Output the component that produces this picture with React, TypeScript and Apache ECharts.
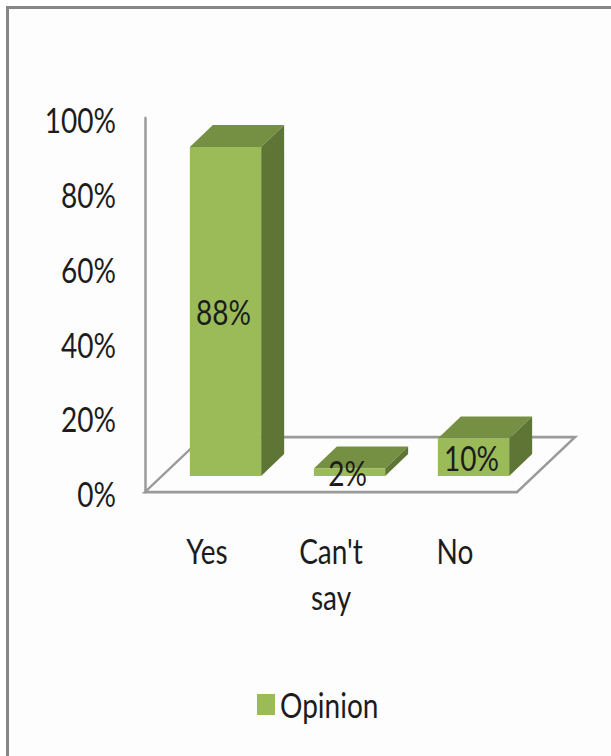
import React, { useEffect, useRef } from "react";
import * as echarts from "echarts";

const categories = ["Yes", "Can't\nsay", "No"];
const opinionShares = [88, 2, 10];
const seriesName = "Opinion";

const FONT = 'Lato, "Noto Sans", sans-serif';
const FONT_SIZE = 28;
const FRONT = "#9bbb59";
const TOP = "#769043";
const SIDE = "#5f7536";
const RULE = "#9a9a9a";
const INK = "#1c1c1c";

// The chart is laid out on a shorter canvas and stretched to full height,
// which gives the tall, narrow lettering. Vertical sizes go through v().
const STRETCH = 1.25;
const WIDTH = 611;
const HEIGHT = 756;
const v = (n: number) => n / STRETCH;

// Depth of the floor and of the columns, in pixels.
const FLOOR_DX = 58;
const FLOOR_DY = v(55);
const BAR_DX = 23;
const BAR_DY = v(22);
const BAR_SHIFT_X = 18.5;
const BAR_SHIFT_Y = v(16);
const BAR_RATIO = 0.575;

const renderFloor = (params: any) => {
  const { x, y, width, height } = params.coordSys;
  const bottom = y + height;
  return {
    type: "polygon",
    silent: true,
    shape: {
      points: [
        [x, bottom],
        [x + width, bottom],
        [x + width + FLOOR_DX, bottom - FLOOR_DY],
        [x + FLOOR_DX, bottom - FLOOR_DY],
      ],
    },
    style: { fill: "#fdfdfd", stroke: RULE, lineWidth: 2.2, lineJoin: "miter" },
  };
};

const renderColumn = (_params: any, api: any) => {
  const value = api.value(1);
  const [cx, y0] = api.coord([api.value(0), 0]);
  const [, y1] = api.coord([api.value(0), value]);
  const w = api.size([1, 0])[0] * BAR_RATIO;
  const l = cx + BAR_SHIFT_X - w / 2;
  const r = l + w;
  const b = y0 - BAR_SHIFT_Y;
  const t = y1 - BAR_SHIFT_Y;
  const face = (points: number[][], fill: string) => ({
    type: "polygon",
    shape: { points },
    style: { fill },
  });
  return {
    type: "group",
    children: [
      face([[l, t], [r, t], [r + BAR_DX, t - BAR_DY], [l + BAR_DX, t - BAR_DY]], TOP),
      face([[r, b], [r + BAR_DX, b - BAR_DY], [r + BAR_DX, t - BAR_DY], [r, t]], SIDE),
      face([[l, b], [r, b], [r, t], [l, t]], FRONT),
      {
        type: "text",
        z2: 10,
        style: {
          text: `${value}%`,
          x: cx + BAR_SHIFT_X - 2,
          y: (t + b) / 2,
          align: "center",
          verticalAlign: "middle",
          fill: INK,
          font: `${FONT_SIZE}px ${FONT}`,
        },
      },
    ],
  };
};

export default function App() {
  const ref = useRef<HTMLDivElement>(null);

  useEffect(() => {
    const chart = echarts.init(ref.current!, undefined, { renderer: "svg" });
    chart.setOption({
      animation: false,
      textStyle: { fontFamily: FONT },
      grid: { left: 145, top: v(118), width: 372, height: v(374), containLabel: false },
      xAxis: {
        type: "category",
        data: categories,
        axisLine: { show: false },
        axisTick: { show: false },
        axisLabel: {
          color: INK,
          fontFamily: FONT,
          fontSize: FONT_SIZE,
          lineHeight: v(46),
          margin: v(36),
          interval: 0,
        },
      },
      yAxis: {
        type: "value",
        min: 0,
        max: 100,
        interval: 20,
        splitLine: { show: false },
        axisTick: { show: false },
        axisLine: { show: true, lineStyle: { color: RULE, width: 2.5 } },
        axisLabel: {
          margin: 29,
          formatter: "{tick|{value}%}",
          rich: {
            tick: {
              color: INK,
              fontFamily: FONT,
              fontSize: FONT_SIZE,
              padding: [v(4), 0, 0, 0],
            },
          },
        },
      },
      legend: {
        data: [seriesName],
        left: 257,
        top: v(687),
        icon: "rect",
        itemWidth: 18,
        itemHeight: v(21),
        itemGap: 9,
        padding: 0,
        selectedMode: false,
        textStyle: { color: INK, fontFamily: FONT, fontSize: FONT_SIZE },
      },
      series: [
        {
          type: "custom",
          name: "floor",
          silent: true,
          z: 1,
          coordinateSystem: "cartesian2d",
          renderItem: renderFloor,
          data: [[0, 0]],
        },
        {
          type: "custom",
          name: seriesName,
          z: 2,
          coordinateSystem: "cartesian2d",
          itemStyle: { color: FRONT },
          renderItem: renderColumn,
          encode: { x: 0, y: 1 },
          data: opinionShares.map((val, i) => [i, val]),
        },
      ],
    });
    return () => chart.dispose();
  }, []);

  return (
    <div style={{ position: "fixed", left: 0, top: 0, width: WIDTH, height: HEIGHT, overflow: "hidden", background: "#ffffff" }}>
      <div
        style={{
          position: "absolute",
          left: 6,
          top: 6,
          width: WIDTH + 20,
          height: HEIGHT + 20,
          boxSizing: "border-box",
          border: "3px solid #868686",
          background: "#fdfdfd",
        }}
      />
      <div
        ref={ref}
        style={{
          position: "absolute",
          left: 0,
          top: 0,
          width: WIDTH,
          height: HEIGHT / STRETCH,
          transform: `scaleY(${STRETCH})`,
          transformOrigin: "0 0",
        }}
      />
    </div>
  );
}
